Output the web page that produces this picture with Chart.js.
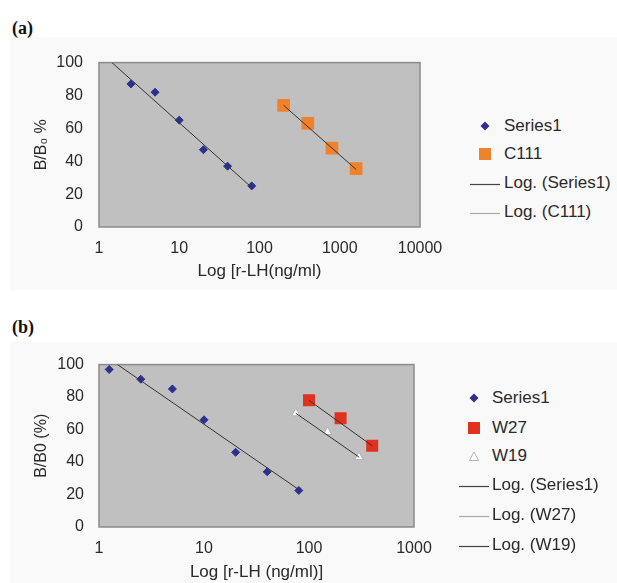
<!DOCTYPE html>
<html>
<head>
<meta charset="utf-8">
<script src="https://cdn.jsdelivr.net/npm/chart.js@4.4.0/dist/chart.umd.min.js"></script>
<style>
  body { margin: 0; width: 617px; height: 583px; position: relative; background: #fff; overflow: hidden;
         font-family: "Liberation Sans", Arial, sans-serif; }
  .panel { position: absolute; left: 10px; right: 0; background: #f9f9f9; }
  .tag { position: absolute; left: 12px; font: bold 18px "Liberation Serif", serif; color: #111; }
  canvas { position: absolute; left: 0; }
  .item { position: absolute; font-size: 17px; color: #2a2a2a; line-height: 18px; white-space: nowrap; }
  .mk { position: absolute; }
</style>
</head>
<body>
<div class="panel" style="top:37px;height:253px"></div>
<div class="panel" style="top:342px;height:241px"></div>
<div class="tag" style="top:18px">(a)</div>
<div class="tag" style="top:317px">(b)</div>
<canvas id="chartA" width="460" height="253" style="top:37px"></canvas>
<canvas id="chartB" width="460" height="243" style="top:340px"></canvas>
<div id="legendA"></div>
<div id="legendB"></div>
<script>
// tick labels
const xTicksA = [1, 10, 100, 1000, 10000];
const xTicksB = [1, 10, 100, 1000];
const yTicks = [0, 20, 40, 60, 80, 100];

// panel (a)
const s1aX = [2.5, 5, 10, 20, 40, 80];
const s1aY = [87, 82, 65, 47, 37, 25];
const c111X = [200, 400, 800, 1600];
const c111Y = [74, 63, 48, 35.5];
const trendS1aX = [1.45, 80];
const trendS1aY = [100, 24];
const trendC111X = [200, 1600];
const trendC111Y = [74, 35];

// panel (b)
const s1bX = [1.25, 2.5, 5, 10, 20, 40, 80];
const s1bY = [97, 91, 85, 66, 46, 34, 22.5];
const w27X = [100, 200, 400];
const w27Y = [78, 67, 50];
const w19X = [75, 150, 300];
const w19Y = [70, 58.5, 43];
const trendS1bX = [1.5, 80];
const trendS1bY = [100, 23];
const trendW27X = [100, 400];
const trendW27Y = [78, 50];
const trendW19X = [75, 300];
const trendW19Y = [70, 43];

Chart.defaults.font.family = '"Liberation Sans", Arial, sans-serif';
Chart.defaults.font.size = 16;
Chart.defaults.color = '#2a2a2a';

const pts = (xs, ys) => xs.map((x, i) => ({ x: x, y: ys[i] }));

const plotBg = {
    id: 'plotBg',
    beforeDatasetsDraw(chart) {
        const { ctx, chartArea: a } = chart;
        ctx.save();
        ctx.fillStyle = '#c0c0c0';
        ctx.fillRect(a.left, a.top, a.width, a.height);
        ctx.strokeStyle = '#8a8a8a';
        ctx.lineWidth = 1.5;
        ctx.strokeRect(a.left, a.top, a.width, a.height);
        ctx.restore();
    }
};

function trend(xs, ys) {
    return { data: pts(xs, ys), showLine: true, borderColor: '#333', borderWidth: 1, pointRadius: 0, fill: false };
}

function makeChart(id, datasets, xTicks, xMax, yTitle, xTitle, opts) {
    new Chart(document.getElementById(id), {
        type: 'scatter',
        data: { datasets: datasets },
        options: {
            responsive: false,
            animation: false,
            events: [],
            layout: { padding: { left: 0, top: 18, right: opts.padRight, bottom: 0 } },
            plugins: { legend: { display: false }, tooltip: { enabled: false } },
            scales: {
                x: {
                    type: 'logarithmic',
                    min: 1, max: xMax,
                    grid: { display: false, drawTicks: false },
                    border: { display: false },
                    afterBuildTicks: s => { s.ticks = xTicks.map(v => ({ value: v })); },
                    afterFit: s => { s.height = opts.xHeight; },
                    ticks: { autoSkip: false, maxRotation: 0, padding: 12, callback: v => String(v) },
                    title: { display: true, text: xTitle, font: { size: 17 }, padding: { top: 0, bottom: opts.xTitlePad } }
                },
                y: {
                    min: 0, max: 100,
                    grid: { display: false, drawTicks: false },
                    border: { display: false },
                    afterBuildTicks: s => { s.ticks = yTicks.map(v => ({ value: v })); },
                    afterFit: s => { s.width = 99; },
                    ticks: { padding: opts.yPad },
                    title: { display: true, text: yTitle, font: { size: 16 }, padding: { top: 32, bottom: 0 } }
                }
            }
        },
        plugins: [plotBg]
    });
}

makeChart('chartA', [
    trend(trendS1aX, trendS1aY),
    trend(trendC111X, trendC111Y),
    { data: pts(s1aX, s1aY), pointStyle: 'rectRot', pointRadius: 4, backgroundColor: '#2f2f8f', borderColor: '#2f2f8f', borderWidth: 1 },
    { data: pts(c111X, c111Y), pointStyle: 'rect', pointRadius: 9, backgroundColor: '#f0822c', borderColor: '#f0822c', borderWidth: 0 }
], xTicksA, 10000, 'B/B\u2080 %', 'Log [r-LH(ng/ml)', { padRight: 40, xHeight: 63, xTitlePad: 8, yPad: 16 });

makeChart('chartB', [
    trend(trendS1bX, trendS1bY),
    trend(trendW27X, trendW27Y),
    trend(trendW19X, trendW19Y),
    { data: pts(s1bX, s1bY), pointStyle: 'rectRot', pointRadius: 4, backgroundColor: '#2f2f8f', borderColor: '#2f2f8f', borderWidth: 1 },
    { data: pts(w27X, w27Y), pointStyle: 'rect', pointRadius: 8.5, backgroundColor: '#e0321f', borderColor: '#e0321f', borderWidth: 0 },
    { data: pts(w19X, w19Y), pointStyle: 'triangle', pointRadius: 5, backgroundColor: '#ffffff', borderColor: '#b0b0b0', borderWidth: 1 }
], xTicksB, 1000, 'B/B0 (%)', 'Log [r-LH (ng/ml)]', { padRight: 46, xHeight: 56, xTitlePad: 0, yPad: 15 });

// legends
const marks = {
    diamond: '<svg width="10" height="10"><polygon points="5,0.5 9.5,5 5,9.5 0.5,5" fill="#2f2f8f"/></svg>',
    orange: '<svg width="12" height="12"><rect width="12" height="12" fill="#f0822c"/></svg>',
    red: '<svg width="12" height="12"><rect width="12" height="12" fill="#e0321f"/></svg>',
    tri: '<svg width="10" height="10"><polygon points="5,1 9.5,9.5 0.5,9.5" fill="#fff" stroke="#b8b8b8" stroke-width="1"/></svg>',
    dark: '<svg width="30" height="3"><line x1="0" y1="1.5" x2="30" y2="1.5" stroke="#444" stroke-width="1.2"/></svg>',
    light: '<svg width="30" height="3"><line x1="0" y1="1.5" x2="30" y2="1.5" stroke="#aaa" stroke-width="1.2"/></svg>'
};
const legendALabels = ['Series1', 'C111', 'Log. (Series1)', 'Log. (C111)'];
const legendAMarks = ['diamond', 'orange', 'dark', 'light'];
const legendAY = [126, 154, 183, 212];
const legendBLabels = ['Series1', 'W27', 'W19', 'Log. (Series1)', 'Log. (W27)', 'Log. (W19)'];
const legendBMarks = ['diamond', 'red', 'tri', 'dark', 'light', 'dark'];
const legendBY = [398, 428, 456, 485, 515, 545];

function buildLegend(id, labels, mk, ys, markX, lineX, textX) {
    const box = document.getElementById(id);
    labels.forEach((label, i) => {
        const isLine = mk[i] === 'dark' || mk[i] === 'light';
        const m = document.createElement('div');
        m.className = 'mk';
        m.innerHTML = marks[mk[i]];
        const w = isLine ? 30 : (mk[i] === 'orange' || mk[i] === 'red' ? 12 : 10);
        m.style.left = (isLine ? lineX : markX - w / 2) + 'px';
        m.style.top = (ys[i] - (isLine ? 2 : w / 2)) + 'px';
        m.style.height = (isLine ? 3 : w) + 'px';
        m.style.lineHeight = '0';
        box.appendChild(m);
        const t = document.createElement('div');
        t.className = 'item';
        t.textContent = label;
        t.style.left = textX + 'px';
        t.style.top = (ys[i] - 9) + 'px';
        box.appendChild(t);
    });
}
buildLegend('legendA', legendALabels, legendAMarks, legendAY, 485, 470, 504);
buildLegend('legendB', legendBLabels, legendBMarks, legendBY, 474, 459, 492);
</script>
</body>
</html>
